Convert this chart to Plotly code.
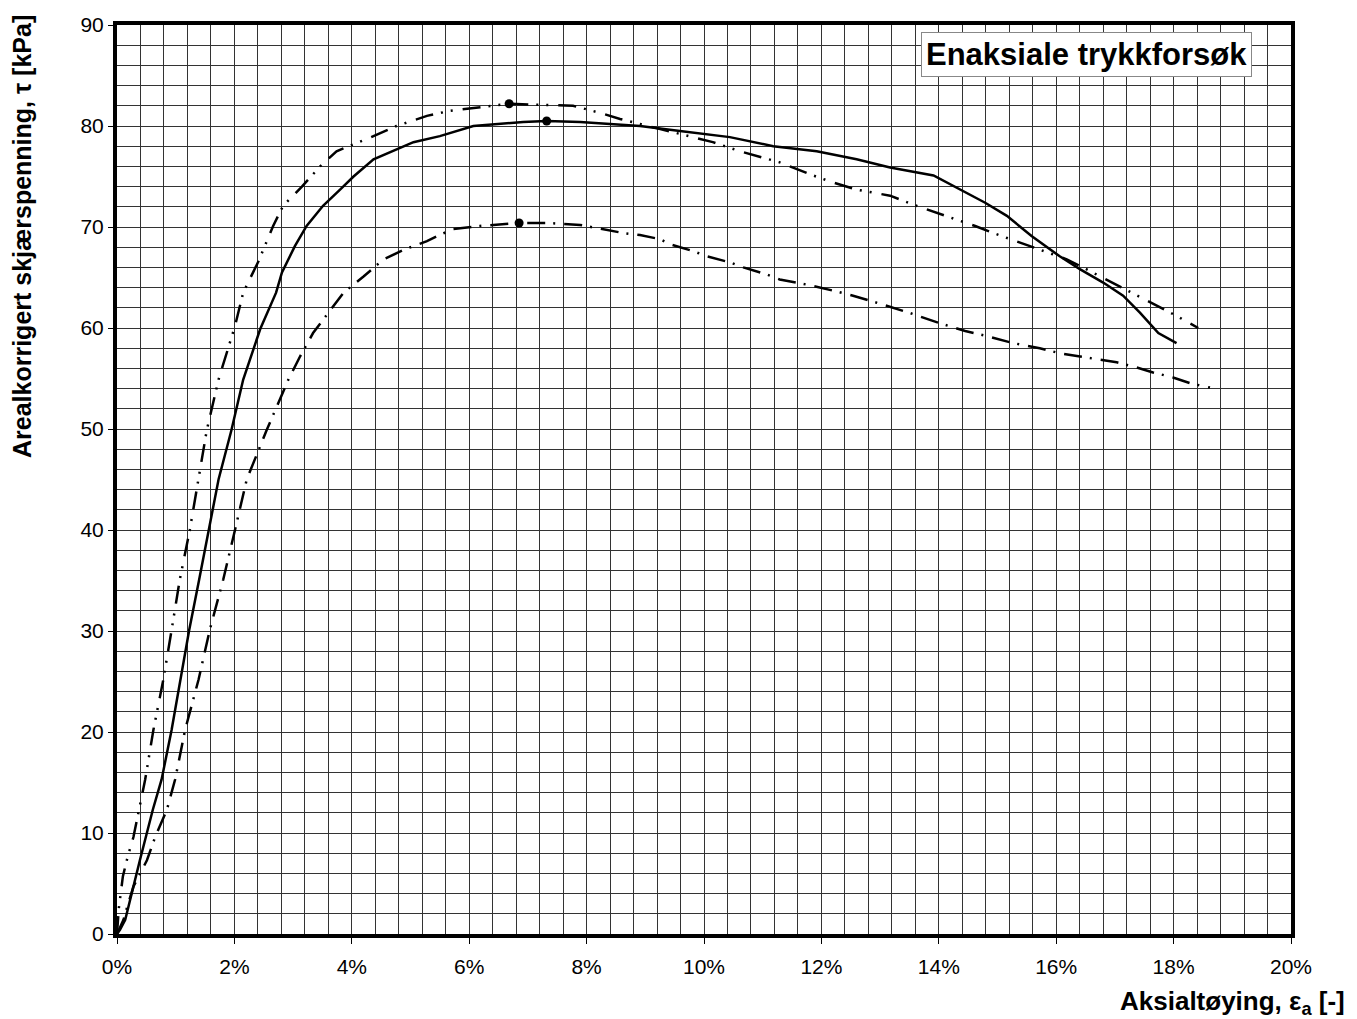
import plotly.graph_objects as go

# Solid curve
solid_x = [0, 0.05, 0.14, 0.25, 0.39, 0.61, 0.76, 0.93, 1.08, 1.23, 1.40, 1.56, 1.73, 1.95, 2.15,
           2.44, 2.71, 2.81, 3.03, 3.23, 3.51, 3.80, 4.03, 4.37, 4.76, 5.05, 5.50, 6.07, 6.92, 7.32,
           7.89, 8.91, 9.59, 10.44, 11.18, 11.92, 12.60, 13.17, 13.91, 14.36, 14.79, 15.16, 15.58,
           16.06, 16.41, 16.80, 17.14, 17.43, 17.74, 18.05]
solid_y = [0, 0.4, 1.4, 4.1, 7.3, 12.3, 15.3, 20.2, 25.2, 30.1, 35.1, 40.0, 45.0, 49.9, 54.9,
           59.9, 63.5, 65.5, 68.1, 70.1, 72.1, 73.7, 75.0, 76.7, 77.7, 78.4, 79.0, 80.0, 80.4, 80.5,
           80.4, 80.0, 79.5, 78.9, 78.0, 77.5, 76.7, 75.9, 75.1, 73.7, 72.4, 71.1, 69.1,
           67.1, 65.8, 64.5, 63.2, 61.5, 59.5, 58.5]

# Dash-dot-dot curve (upper)
ddd_x = [0, 0.03, 0.10, 0.18, 0.28, 0.38, 0.48, 0.62, 0.79, 0.93, 1.07, 1.24, 1.39, 1.53, 1.73,
         2.01, 2.15, 2.41, 2.66, 2.83, 3.15, 3.46, 3.74, 4.25, 4.76, 5.28, 5.67, 6.07, 6.68, 7.21,
         7.77, 8.23, 8.57, 8.91, 9.76, 10.15, 10.61, 11.29, 11.86, 12.20, 12.60, 13.17, 13.62,
         14.13, 14.62, 14.93, 15.41, 15.72, 16.18, 16.52, 16.92, 17.26, 17.71, 18.05, 18.42]
ddd_y = [0, 2.5, 5.7, 7.6, 9.6, 12.3, 15.3, 20.2, 25.2, 30.1, 35.1, 40.0, 45.0, 49.9, 54.9,
         60.2, 63.5, 66.6, 70.1, 72.1, 74.0, 76.0, 77.5, 78.7, 80.0, 81.0, 81.5, 81.8, 82.2, 82.1,
         82.0, 81.3, 80.7, 80.2, 79.0, 78.4, 77.5, 76.4, 75.1, 74.4, 73.7, 73.1, 72.1,
         71.1, 70.1, 69.4, 68.4, 67.8, 66.8, 65.8, 64.6, 63.5, 62.2, 61.2, 60.0]

# Dash-dot curve (lower)
dd_x = [0, 0.11, 0.19, 0.28, 0.51, 0.65, 0.85, 0.99, 1.16, 1.39, 1.58, 1.81, 2.01, 2.21, 2.55,
        2.92, 3.12, 3.34, 3.60, 3.86, 4.20, 4.54, 4.91, 5.28, 5.53, 5.73, 6.18, 6.85, 7.32, 7.89,
        8.17, 8.63, 8.91, 9.25, 9.42, 9.82, 10.05, 10.44, 10.67, 11.07, 11.29, 11.75, 12.20,
        12.54, 13.0, 13.5, 14.0, 14.45, 14.82, 15.27, 15.72, 16.06, 16.38, 16.75, 17.03, 17.37,
        17.65, 17.99, 18.30, 18.62]
dd_y = [0, 1.4, 3.0, 4.7, 7.3, 9.6, 12.3, 15.3, 20.2, 25.2, 30.1, 35.1, 40.0, 45.0, 49.9,
        54.9, 57.2, 59.5, 61.5, 63.5, 65.1, 66.8, 67.8, 68.6, 69.3, 69.8, 70.1, 70.4, 70.4, 70.2,
        69.9, 69.4, 69.2, 68.8, 68.3, 67.6, 67.1, 66.5, 66.0, 65.3, 64.8, 64.3, 63.7,
        63.2, 62.4, 61.5, 60.5, 59.7, 59.2, 58.5, 58.0, 57.5, 57.2, 56.9, 56.6, 56.1,
        55.6, 55.1, 54.5, 54.1]

# Peak points
peak_x = [7.32, 6.68, 6.85]
peak_y = [80.5, 82.2, 70.4]

x_ticks = list(range(0, 21, 2))
x_tick_labels = [f"{v}%" for v in x_ticks]
y_ticks = list(range(0, 91, 10))

FONT = "Arial, Liberation Sans, sans-serif"

fig = go.Figure()
fig.add_trace(go.Scatter(x=solid_x, y=solid_y, mode="lines",
                         line=dict(color="black", width=2.5), showlegend=False))
fig.add_trace(go.Scatter(x=ddd_x, y=ddd_y, mode="lines",
                         line=dict(color="black", width=2.5, dash="18px,8px,2px,8px,2px,10px"),
                         showlegend=False))
fig.add_trace(go.Scatter(x=dd_x, y=dd_y, mode="lines",
                         line=dict(color="black", width=2.5, dash="18px,8px,2px,9px"),
                         showlegend=False))
fig.add_trace(go.Scatter(x=peak_x, y=peak_y, mode="markers",
                         marker=dict(color="black", size=9), showlegend=False))

grid_col = "#333333"
fig.update_xaxes(range=[0, 20], tickvals=x_ticks, ticktext=x_tick_labels,
                 showgrid=True, gridcolor=grid_col, gridwidth=1,
                 minor=dict(dtick=0.4, tick0=0, showgrid=True, gridcolor=grid_col, gridwidth=1),
                 showline=True, linecolor="black", linewidth=4, mirror=True,
                 ticks="outside", ticklen=6, tickcolor="black", tickwidth=1,
                 ticklabelstandoff=5,
                 zeroline=False, tickfont=dict(family=FONT, size=21, color="black"))
fig.update_yaxes(range=[0, 90], tickvals=y_ticks,
                 showgrid=True, gridcolor=grid_col, gridwidth=1,
                 minor=dict(dtick=2, tick0=0, showgrid=True, gridcolor=grid_col, gridwidth=1),
                 showline=True, linecolor="black", linewidth=4, mirror=True,
                 ticks="outside", ticklen=5, tickcolor="black", tickwidth=1,
                 zeroline=False, tickfont=dict(family=FONT, size=21, color="black"))

fig.add_annotation(text="<b>Enaksiale trykkforsøk</b>", xref="paper", yref="paper",
                   x=(1252 - 117) / 1174, y=(934 - 32) / 909, xanchor="right", yanchor="top",
                   showarrow=False,
                   font=dict(family=FONT, size=31, color="black"),
                   bgcolor="white", bordercolor="#888888", borderwidth=1, borderpad=4)
fig.add_annotation(text="<b>Aksialtøying, ε<sub>a</sub> [-]</b>", xref="paper", yref="paper",
                   x=(1347 - 117) / 1174, y=(934 - 1003) / 909, xanchor="right", yanchor="middle",
                   showarrow=False, font=dict(family=FONT, size=26, color="black"))
fig.add_annotation(text="<b>Arealkorrigert skjærspenning, τ [kPa]</b>", xref="paper", yref="paper",
                   x=(22 - 117) / 1174, y=(934 - 237) / 909, xanchor="center", yanchor="middle",
                   textangle=-90, showarrow=False,
                   font=dict(family=FONT, size=25, color="black"))

fig.update_layout(width=1357, height=1019, margin=dict(l=117, r=66, t=25, b=85),
                  plot_bgcolor="white", paper_bgcolor="white",
                  font=dict(family=FONT, color="black"))

fig.write_html("out.html")
